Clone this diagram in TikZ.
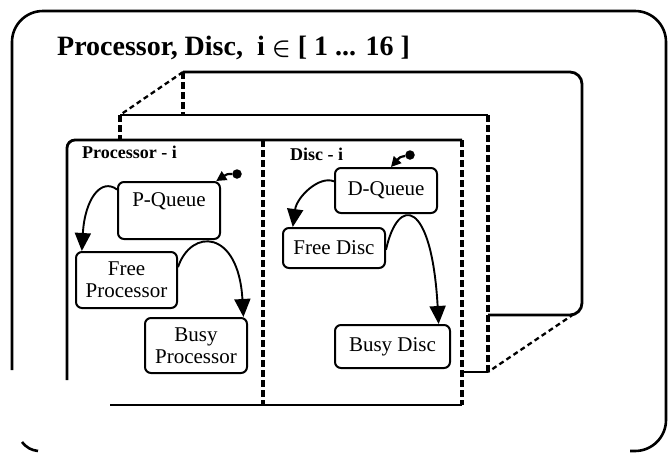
\documentclass[tikz,border=0pt]{standalone}
\usepackage{fontspec}
\setmainfont{Liberation Serif}
\usetikzlibrary{arrows.meta}
\begin{document}
\begin{tikzpicture}[x=1pt,y=-1pt,
  outer/.style={line width=2.6pt},
  layer/.style={line width=2.8pt},
  dashv/.style={line width=3.2pt, dash pattern=on 6.5pt off 3.5pt},
  dashd/.style={line width=2.3pt, dash pattern=on 5pt off 3.5pt},
  box/.style={draw, line width=2pt, rounded corners=6pt, inner sep=0pt, align=center, font=\fontsize{21}{22}\selectfont},
  flow/.style={line width=1.9pt, -{Triangle[length=18pt,width=16pt]}},
  entry/.style={line width=2.2pt, -{Triangle[length=10pt,width=10pt]}},
  lbl/.style={font=\bfseries\fontsize{18}{20}\selectfont, inner sep=0pt, anchor=west},
  dotst/.style={circle, fill, inner sep=0pt, minimum size=9.5pt}
]
\useasboundingbox (0,0) rectangle (669,453);

% outer frame
\draw[outer, rounded corners=31pt] (12,370) -- (12,11) -- (666,11) -- (666,451) -- (630,451);
\draw[outer] (22,442) .. controls (27,448) and (31,450) .. (38,451);

% title
\node[anchor=base west, inner sep=0pt, font=\bfseries\fontsize{28}{30}\selectfont] (title) at (57,55)
  {Processor, Disc,\ \ i {\boldmath$\in$} [ 1 ... 16 ]};

% back layer
\draw[layer, rounded corners=12pt] (183,72) -- (582,72) -- (582,315) -- (488,315);
\draw[dashv] (183,72) -- (183,115);
\draw[dashd] (183,72) -- (120,115);
\draw[dashd] (574,314) -- (488,372);

% middle layer
\draw[layer] (120,115) -- (488,115);
\draw[dashv] (488,115) -- (488,372);
\draw[layer] (462,372) -- (488,372);
\draw[dashv] (120,115) -- (120,140);

% front layer
\draw[layer, rounded corners=8pt] (67,380) -- (67,140) -- (462,140);
\draw[dashv] (462,140) -- (462,405);
\draw[layer] (110,405) -- (462,405);
\draw[dashv] (263,140) -- (263,405);

% labels
\node[lbl] (lp) at (82,152) {Processor - i};
\node[lbl] (ld) at (290,154) {Disc - i};

% boxes
\node[box, minimum width=102pt, minimum height=57pt] (pq) at (169,210.5) {P-Queue\\~};
\node[box, minimum width=101pt, minimum height=56pt] (fp) at (126.5,280) {Free\\Processor};
\node[box, minimum width=102pt, minimum height=55pt] (bp) at (196,345.5) {Busy\\Processor};
\node[box, minimum width=102pt, minimum height=45pt] (dq) at (386,190.5) {D-Queue};
\node[box, minimum width=102pt, minimum height=40pt] (fd) at (334,248) {Free Disc};
\node[box, minimum width=115pt, minimum height=43pt] (bd) at (392.5,346.5) {Busy Disc};

% entry dots
\node[dotst] (dp) at (237,174) {};
\node[dotst] (dd) at (410,155) {};
\draw[entry] (dp) .. controls +(-10,0) .. (pq.32);
\draw[entry] (dd) .. controls +(-10,2) .. (dq.78);

% transitions
\draw[flow] (pq.158) .. controls +(-16,-12) and +(3,-52) .. (fp.147);
\draw[flow] (fp.14) .. controls +(13,-39) and +(-5,-88) .. (bp.31);
\draw[flow] (dq.170) .. controls +(-15,-6) and +(4,-30) .. (fd.153);
\draw[flow] (fd.-2) .. controls +(12,-55) and +(-7,-125) .. (bd.26);
\end{tikzpicture}
\end{document}
